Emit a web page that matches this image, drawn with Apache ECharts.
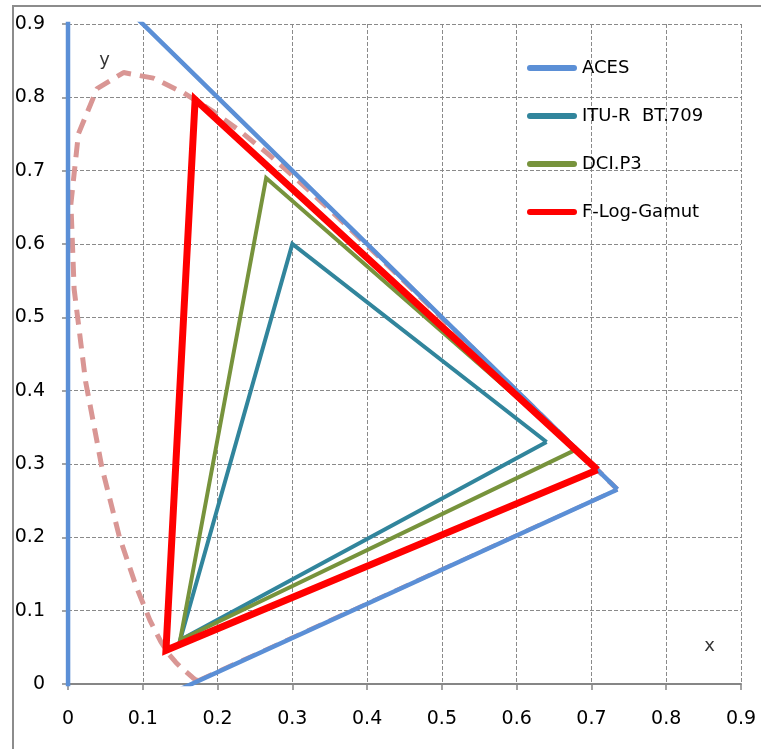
<!DOCTYPE html>
<html>
<head>
<meta charset="utf-8">
<script src="https://cdn.jsdelivr.net/npm/echarts@6/dist/echarts.min.js"></script>
<style>html,body{margin:0;padding:0;background:#fff;}#c{width:761px;height:749px;}</style>
</head>
<body>
<div id="c"></div>
<script>
// CIE 1931 spectral locus (x, y), 380-700 nm
const locus = [
[0.1741,0.0050],[0.1740,0.0050],[0.1738,0.0049],[0.1736,0.0049],[0.1733,0.0048],[0.1730,0.0048],
[0.1726,0.0048],[0.1721,0.0048],[0.1714,0.0051],[0.1703,0.0058],[0.1689,0.0069],[0.1669,0.0086],
[0.1644,0.0109],[0.1611,0.0138],[0.1566,0.0177],[0.1510,0.0227],[0.1440,0.0297],[0.1355,0.0399],
[0.1241,0.0578],[0.1096,0.0868],[0.0913,0.1327],[0.0687,0.2007],[0.0454,0.2950],[0.0235,0.4127],
[0.0082,0.5384],[0.0039,0.6548],[0.0139,0.7502],[0.0389,0.8120],[0.0743,0.8338],[0.1142,0.8262],
[0.1547,0.8059],[0.1929,0.7816],[0.2296,0.7543],[0.2658,0.7243],[0.3016,0.6923],[0.3373,0.6589],
[0.3731,0.6245],[0.4087,0.5896],[0.4441,0.5547],[0.4788,0.5202],[0.5125,0.4866],[0.5448,0.4544],
[0.5752,0.4242],[0.6029,0.3965],[0.6270,0.3725],[0.6482,0.3514],[0.6658,0.3340],[0.6801,0.3197],
[0.6915,0.3083],[0.7006,0.2993],[0.7079,0.2920],[0.7140,0.2859],[0.7190,0.2809],[0.7230,0.2770],
[0.7260,0.2740],[0.7283,0.2717],[0.7300,0.2700],[0.7311,0.2689],[0.7320,0.2680],[0.7327,0.2673],
[0.7334,0.2666],[0.7340,0.2660],[0.7344,0.2656],[0.7346,0.2654],[0.7347,0.2653]
];
// purple line closing the locus
const purpleLine = [[0.1741,0.0050],[0.7347,0.2653]];
const aces   = [[0.7347,0.2653],[0.0,1.0],[0.0001,-0.0770],[0.7347,0.2653]];
const bt709  = [[0.64,0.33],[0.30,0.60],[0.15,0.06],[0.64,0.33]];
const dciP3  = [[0.68,0.32],[0.265,0.69],[0.15,0.06],[0.68,0.32]];
const fLog   = [[0.708,0.292],[0.170,0.797],[0.131,0.046],[0.708,0.292]];
const seriesNames = ['ACES','ITU-R  BT.709','DCI.P3','F-Log-Gamut'];
const axisLabels = [{text:'y', pos:[0.049,0.851]},{text:'x', pos:[0.858,0.052]}];
const axisMin = 0, axisMax = 0.9, axisStep = 0.1;

const FONT = 'DejaVu Sans';
const chart = echarts.init(document.getElementById('c'), null, {renderer:'canvas'});
const gridColor = '#8a8a8a';
function axisCommon(){
  return {
    type:'value', min:axisMin, max:axisMax, interval:axisStep,
    axisLine:{show:true, onZero:false, lineStyle:{color:'#868686', width:2}},
    axisTick:{show:true, length:6, lineStyle:{color:'#868686', width:1.5}},
    splitLine:{show:true, lineStyle:{color:gridColor, width:1, type:[4,2]}},
    axisLabel:{color:'#000', fontFamily:FONT, fontSize:19,
      formatter:v=> (Math.round(v*10)/10).toString()}
  };
}
const xA = axisCommon(); xA.axisLabel.margin = 26;
const yA = axisCommon(); yA.axisLabel.margin = 23;
const capsule = 'path://M3,0H47A3,3,0,0,1,47,6H3A3,3,0,0,1,3,0Z';
function tri(name, data, color, width){
  return {name, type:'line', data, color, symbol:'none', clip:true, animation:false,
    lineStyle:{color, width, join:'miter'}, z:3};
}
chart.setOption({
  animation:false,
  backgroundColor:'#fff',
  grid:{left:68, top:24, right:20, bottom:65, containLabel:false},
  xAxis:xA, yAxis:yA,
  legend:{
    orient:'vertical', left:527, top:59, padding:0, itemGap:30, itemWidth:50, itemHeight:6,
    icon:capsule, itemStyle:{borderWidth:0},
    data:seriesNames,
    textStyle:{color:'#000', fontFamily:FONT, fontSize:18, padding:[0,0,0,0]},
    selectedMode:false
  },
  graphic:[{type:'rect', shape:{x:13, y:6, width:900, height:900},
    style:{fill:'none', stroke:'#8c8c8c', lineWidth:2}, silent:true, z:-10}],
  series:[
    {type:'line', data:locus, symbol:'none', clip:true, z:2, silent:true,
      lineStyle:{color:'#d99694', width:5, type:[15,9]}},
    {type:'line', data:purpleLine, symbol:'none', clip:true, z:2, silent:true,
      lineStyle:{color:'#d99694', width:4, type:[15,9]}},
    tri(seriesNames[0], aces, '#5b8fd6', 4.5),
    tri(seriesNames[1], bt709, '#31859c', 4),
    tri(seriesNames[2], dciP3, '#77933c', 4),
    tri(seriesNames[3], fLog, '#ff0000', 7),
    {type:'scatter', data:axisLabels.map(a=>({value:a.pos, label:{formatter:a.text}})),
      symbolSize:0, silent:true, z:5,
      label:{show:true, position:'inside', color:'#000', fontFamily:FONT, fontSize:18}}
  ]
});
</script>
</body>
</html>
